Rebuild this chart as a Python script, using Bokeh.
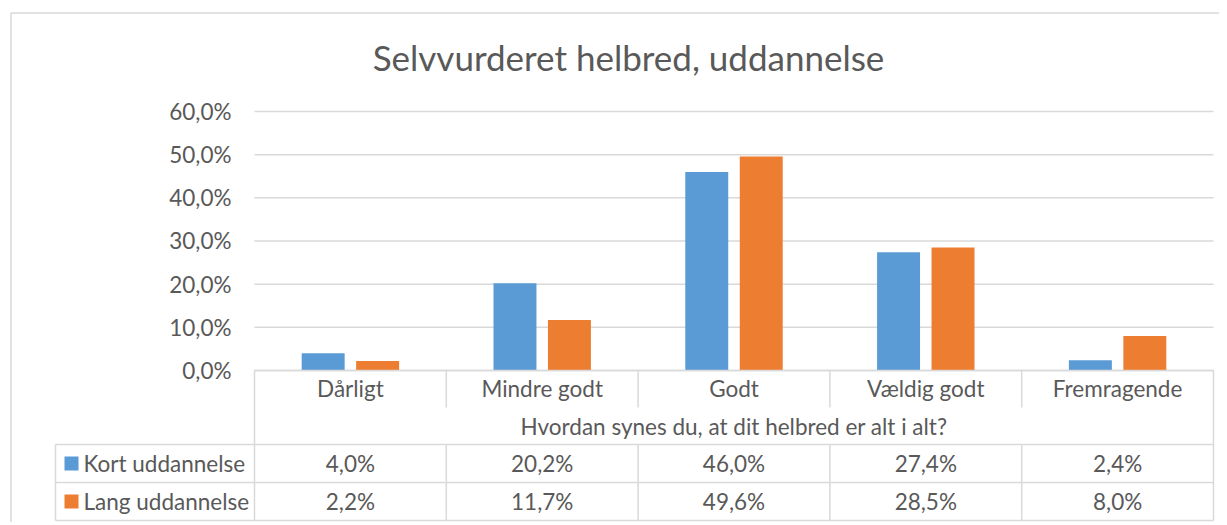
from bokeh.plotting import figure
from bokeh.models import Range1d, LinearAxis, FixedTicker, ColumnDataSource
from bokeh.core.properties import value
from bokeh.embed import file_html
from bokeh.resources import INLINE

# ---------------- data ----------------
title_text = "Selvvurderet helbred, uddannelse"
axis_title = "Hvordan synes du, at dit helbred er alt i alt?"
categories = ["Dårligt", "Mindre godt", "Godt", "Vældig godt", "Fremragende"]
series_names = ["Kort uddannelse", "Lang uddannelse"]
kort = [4.0, 20.2, 46.0, 27.4, 2.4]
lang = [2.2, 11.7, 49.6, 28.5, 8.0]
y_ticks = [0, 10, 20, 30, 40, 50, 60]
colors = ["#5b9bd5", "#ed7d31"]

# ---------------- layout (picture pixels) ----------------
W, H = 1219, 522
COL_W = 191.8          # px per category column
X0 = 254               # x of first category column
PX_PER_PCT = 4.31667   # px per percentage point
Y0 = 370               # y of 0 %
LEG_LEFT = 55
ROW_HDR_BOTTOM = 407
ROW_TITLE_BOTTOM = 444
ROW1_BOTTOM = 482
ROW2_BOTTOM = 520

def dx(px):
    return (px - X0) / COL_W

def dy(py):
    return (Y0 - py) / PX_PER_PCT

FONT = value("Lato")
TXT = "#595959"
LINE = "#d9d9d9"
FS = "22.5px"

p = figure(width=W, height=H, output_backend="svg", toolbar_location=None,
           x_range=Range1d(dx(0), dx(W)),
           y_range=Range1d(dy(H), dy(0)),
           x_axis_location=None, y_axis_location=None,
           min_border=0, outline_line_color=None)
p.grid.visible = False
p.background_fill_color = "white"
p.border_fill_color = "white"

n = len(categories)

# chart border (left and top)
p.segment(x0=[dx(10.5), dx(10.5)], y0=[dy(12.5), dy(12.5)],
          x1=[dx(10.5), dx(W)], y1=[dy(H), dy(12.5)],
          line_color=LINE, line_width=1.5)

# gridlines
grid_src = ColumnDataSource(dict(x0=[0] * len(y_ticks), x1=[n] * len(y_ticks), y=y_ticks))
p.segment(x0="x0", x1="x1", y0="y", y1="y", source=grid_src, line_color=LINE, line_width=1.5)

# bars
bar_w = 0.224
off = 0.142
xs = [i + 0.5 for i in range(n)]
p.vbar(x=[x - off for x in xs], top=kort, width=bar_w, bottom=0, fill_color=colors[0], line_color=None)
p.vbar(x=[x + off for x in xs], top=lang, width=bar_w, bottom=0, fill_color=colors[1], line_color=None)

# y axis
ax = LinearAxis(fixed_location=0, ticker=FixedTicker(ticks=y_ticks),
                major_label_overrides={t: f"{t:.1f}%".replace(".", ",") for t in y_ticks},
                axis_line_color=None, major_tick_line_color=None, minor_tick_line_color=None,
                major_tick_out=0, major_tick_in=0, major_label_standoff=23,
                major_label_text_font="Lato", major_label_text_font_size=FS,
                major_label_text_color=TXT)
p.add_layout(ax, "left")

# data table lines
y_top, y_hdr, y_tt, y_r1, y_r2 = dy(Y0), dy(ROW_HDR_BOTTOM), dy(ROW_TITLE_BOTTOM), dy(ROW1_BOTTOM), dy(ROW2_BOTTOM)
xl = dx(LEG_LEFT)
hx0 = [0, xl, xl, xl]
hx1 = [n, n, n, n]
hy = [y_top, y_tt, y_r1, y_r2]
p.segment(x0=hx0, x1=hx1, y0=hy, y1=hy, line_color=LINE, line_width=1.5)
vx = [0, n, xl] + list(range(1, n)) + list(range(1, n))
vy0 = [y_top, y_top, y_tt] + [y_top] * (n - 1) + [y_tt] * (n - 1)
vy1 = [y_r2, y_r2, y_r2] + [y_hdr] * (n - 1) + [y_r2] * (n - 1)
p.segment(x0=vx, x1=vx, y0=vy0, y1=vy1, line_color=LINE, line_width=1.5)

# category labels
p.text(x=xs, y=[dy(388)] * n, text=categories, text_font=FONT, text_font_size=FS,
       text_color=TXT, text_align="center", text_baseline="middle")
# axis title
p.text(x=[n / 2], y=[dy(425.5)], text=[axis_title], text_font=FONT, text_font_size=FS,
       text_color=TXT, text_align="center", text_baseline="middle")
# values
fmt = lambda v: f"{v:.1f}%".replace(".", ",")
row_y = [dy(463), dy(501)]
for vals, ry in zip([kort, lang], row_y):
    p.text(x=xs, y=[ry] * n, text=[fmt(v) for v in vals], text_font=FONT, text_font_size=FS,
           text_color=TXT, text_align="center", text_baseline="middle")
# legend keys
p.rect(x=[dx(71)] * 2, y=row_y, width=14, height=14, width_units="screen", height_units="screen",
       fill_color=colors, line_color=None)
p.text(x=[dx(83)] * 2, y=row_y, text=series_names, text_font=FONT, text_font_size=FS,
       text_color=TXT, text_align="left", text_baseline="middle")

# title
p.text(x=[dx(628)], y=[dy(56)], text=[title_text], text_font=FONT, text_font_size="35px",
       text_color=TXT, text_align="center", text_baseline="middle")

open("out.html", "w").write(file_html(p, INLINE))
